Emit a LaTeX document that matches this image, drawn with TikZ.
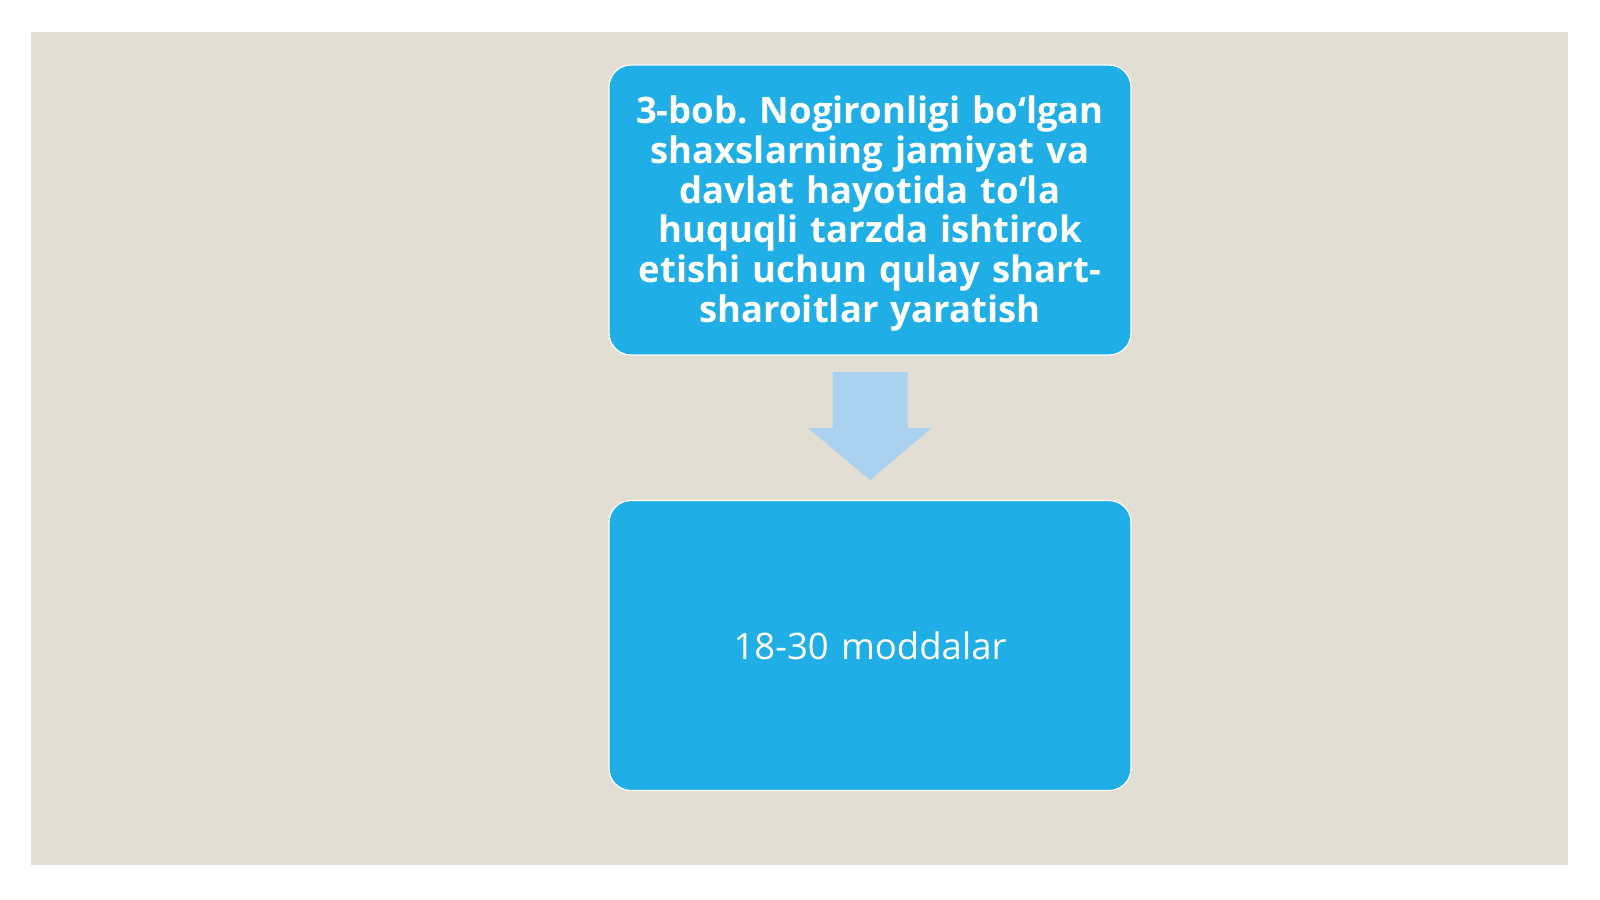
\documentclass[tikz,border=0pt]{standalone}
\usepackage{fontspec}
\setmainfont{Open Sans}
\definecolor{bgbeige}{HTML}{E3DED3}
\definecolor{boxblue}{HTML}{1FAEE5}
\definecolor{arrowblue}{HTML}{AAD1EF}
\tikzset{
  bluebox/.style={fill=boxblue, draw=white, line width=1.2pt, rounded corners=22pt,
    minimum width=522pt, minimum height=290pt, text=white, align=center,
    text width=510pt, inner sep=0pt},
  boxtext/.style={text=white, align=center, text width=510pt, inner sep=0pt},
}
\frenchspacing
\begin{document}
\begin{tikzpicture}[x=1pt,y=-1pt]
\useasboundingbox (0,0) rectangle (1600,899);
\fill[white] (0,0) rectangle (1600,899);
\fill[bgbeige] (31,32) rectangle (1568,865);
\node[bluebox] (top) at (870,210) {};
\node[boxtext, font=\fontsize{36.5}{39.8}\selectfont\bfseries] (toptxt) at ([yshift=-3.5pt]top.center)
  {3-bob. Nogironligi bo‘lgan\\ shaxslarning jamiyat va\\ davlat hayotida to‘la\\ huquqli tarzda ishtirok\\ etishi uchun qulay shart-\\ sharoitlar yaratish};
\node[bluebox, font=\fontsize{36.5}{40}\selectfont] (bot) at (870,645.5) {18-30 moddalar};
\coordinate (atop) at (870,372);
\coordinate (atip) at (870,480);
\fill[arrowblue] ([xshift=-37.5pt]atop) -- ([xshift=37.5pt]atop) -- ([xshift=37.5pt,yshift=-56pt]atop)
  -- ([xshift=62pt,yshift=-56pt]atop) -- (atip) -- ([xshift=-62pt,yshift=-56pt]atop)
  -- ([xshift=-37.5pt,yshift=-56pt]atop) -- cycle;
\end{tikzpicture}
\end{document}
